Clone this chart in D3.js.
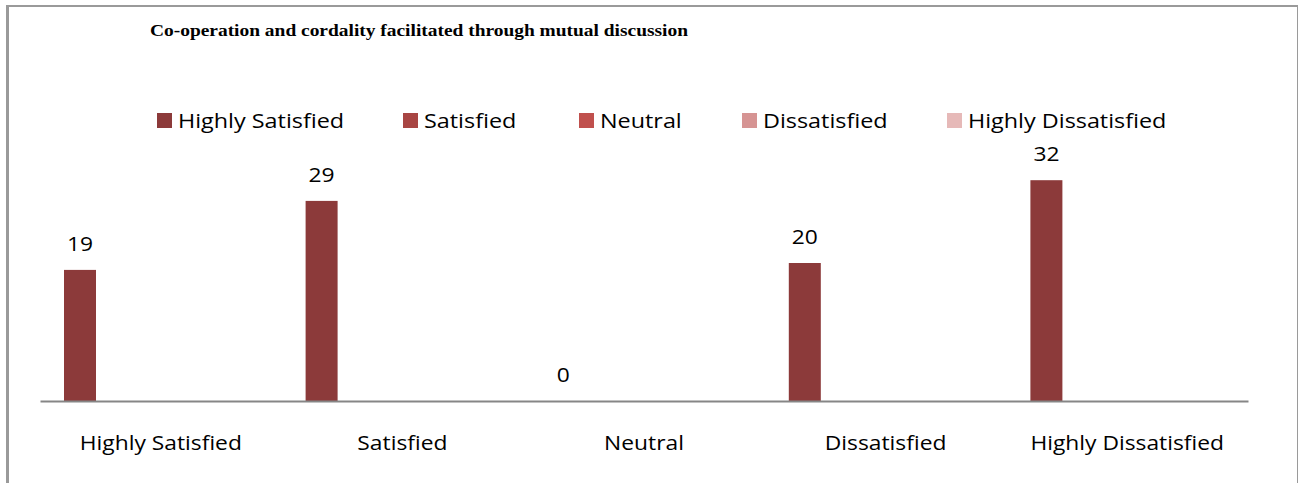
<!DOCTYPE html>
<html>
<head>
<meta charset="utf-8">
<script src="https://cdn.jsdelivr.net/npm/d3@7"></script>
<style>
  html, body { margin: 0; padding: 0; background: #fff; }
  svg { display: block; }
</style>
</head>
<body>
<svg id="chart" width="1302" height="483"></svg>
<script>
// Response categories along the x axis
const categories = ["Highly Satisfied", "Satisfied", "Neutral", "Dissatisfied", "Highly Dissatisfied"];
// Legend series (one slot per response level inside each group)
const seriesNames = ["Highly Satisfied", "Satisfied", "Neutral", "Dissatisfied", "Highly Dissatisfied"];
const seriesColors = ["#8c3a3a", "#a84543", "#c0504d", "#d69493", "#e6b9b8"];
// Respondent counts (only the first series carries values)
const counts = [19, 29, 0, 20, 32];
const chartTitle = "Co-operation and cordality facilitated through mutual discussion";

const svg = d3.select("#chart");
const W = 1302, H = 483;
const margin = { left: 40, right: 54, baseline: 401 };
const bodyFont = "'Open Sans', Carlito, Calibri, sans-serif";
const stretch = 1.14; // horizontal widening of the sans-serif labels

// Outer frame
svg.append("rect").attr("x", 6).attr("y", 5).attr("width", 3).attr("height", H - 5).attr("fill", "#9a9a9a");
svg.append("rect").attr("x", 6).attr("y", 5).attr("width", 1292).attr("height", 2).attr("fill", "#9a9a9a");
svg.append("rect").attr("x", 1297).attr("y", 5).attr("width", 1).attr("height", H - 5).attr("fill", "#9a9a9a");

// Title
svg.append("text")
  .attr("x", 150).attr("y", 36)
  .attr("font-family", "'Liberation Serif', 'Times New Roman', serif")
  .attr("font-weight", "bold")
  .attr("font-size", 17)
  .attr("textLength", 538)
  .attr("lengthAdjust", "spacingAndGlyphs")
  .attr("fill", "#000")
  .text(chartTitle);

// Scales
const x0 = d3.scaleBand()
  .domain(categories)
  .range([margin.left, W - margin.right])
  .paddingInner(0).paddingOuter(0);

const x1 = d3.scaleBand()
  .domain(seriesNames)
  .range([24, 24 + 160]);

const y = d3.scaleLinear()
  .domain([0, 35])
  .range([margin.baseline, margin.baseline - 35 * 6.9]);

const rows = categories.map((c, i) => ({ cat: c, value: counts[i] }));

// Bars
const bars = svg.append("g");
bars.selectAll("rect")
  .data(rows)
  .join("rect")
  .attr("x", d => x0(d.cat) + x1(seriesNames[0]))
  .attr("y", d => y(d.value))
  .attr("width", x1.bandwidth())
  .attr("height", d => y(0) - y(d.value))
  .attr("fill", seriesColors[0]);

// Value labels
bars.selectAll("text")
  .data(rows)
  .join("text")
  .attr("transform", d =>
    `translate(${x0(d.cat) + x1(seriesNames[0]) + x1.bandwidth() / 2},${y(d.value) - 19}) scale(${stretch},1)`)
  .attr("text-anchor", "middle")
  .attr("font-family", bodyFont)
  .attr("font-size", 20)
  .attr("fill", "#000")
  .text(d => d.value);

// X axis
const xAxis = svg.append("g")
  .attr("transform", `translate(0,${margin.baseline})`)
  .call(d3.axisBottom(x0).tickSize(0).tickPadding(0));
xAxis.select(".domain").attr("stroke", "#868686").attr("stroke-width", 2);
xAxis.selectAll("text")
  .attr("y", null)
  .attr("transform", `translate(0,49) scale(${stretch},1)`)
  .attr("font-family", bodyFont)
  .attr("font-size", 20)
  .attr("fill", "#000")
  .attr("dy", "0");

// Legend
const legendX = [157, 403, 579, 742, 947];
const legend = svg.append("g").attr("font-family", bodyFont);
seriesNames.forEach((name, i) => {
  const g = legend.append("g").attr("transform", `translate(${legendX[i]},0)`);
  g.append("rect").attr("x", 0).attr("y", 113).attr("width", 15).attr("height", 15).attr("fill", seriesColors[i]);
  g.append("text")
    .attr("transform", `translate(21,128) scale(${stretch},1)`)
    .attr("font-size", 20.5)
    .attr("fill", "#000")
    .text(name);
});
</script>
</body>
</html>
